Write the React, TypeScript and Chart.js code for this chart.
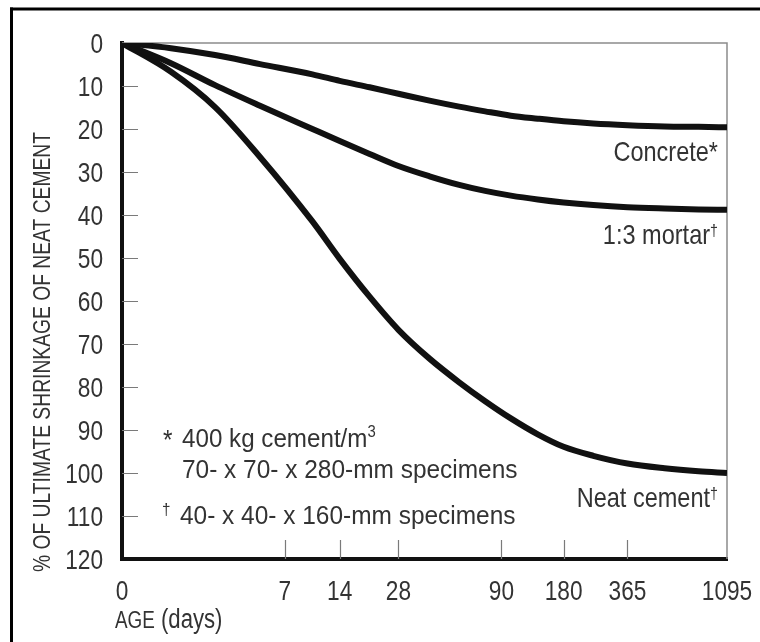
import React, { useEffect, useRef } from 'react';
import { Chart, LinearScale, registerables } from 'chart.js';

// ---------- data ----------
const DAYS = [0, 1, 2.5, 5, 10, 14, 20, 28, 40, 56, 75, 100, 135, 180, 250, 365, 550, 800, 1095];
const CONCRETE = [0, 1.2, 2.8, 4.9, 7.3, 8.8, 10.3, 11.8, 13.4, 14.8, 15.9, 16.9, 17.6, 18.2, 18.7, 19.1, 19.4, 19.5, 19.6];
const MORTAR = [0, 4.7, 9.8, 14.6, 20.0, 22.8, 25.8, 28.6, 31.0, 33.0, 34.4, 35.5, 36.4, 37.1, 37.7, 38.2, 38.5, 38.7, 38.8];
const NEAT = [0, 6.7, 14.9, 26.5, 41.5, 50.2, 59.0, 66.7, 73.4, 78.9, 83.3, 87.3, 91.0, 93.9, 96.0, 97.8, 98.9, 99.6, 100];
const SERIES_NAMES = ['Concrete', '1:3 mortar', 'Neat cement'];
const SERIES_MARKS = ['*', '\u2020', '\u2020'];
const X_TICKS = [0, 7, 14, 28, 90, 180, 365, 1095];
const Y_MIN = 0;
const Y_MAX = 120;
const Y_STEP = 10;
const Y_TITLE = '% OF ULTIMATE SHRINKAGE OF NEAT CEMENT';
const X_TITLE_CAPS = 'AGE';
const X_TITLE_REST = ' (days)';
const NOTE_1A = '400 kg cement/m';
const NOTE_1B = '3';
const NOTE_2 = '70- x 70- x 280-mm specimens';
const NOTE_3 = '40- x 40- x 160-mm specimens';

const FONT = '"Liberation Sans", Arial, sans-serif';
const TEXT = '#333333';
const SHIFT = 1.4;

class ShiftedLogScale extends LinearScale {
  static id = 'shiftedLog';
  static defaults = LinearScale.defaults;
  _tf(v: number) {
    return Math.log10(Math.max(v, 0) + SHIFT);
  }
  buildTicks() {
    return X_TICKS.map((v) => ({ value: v }));
  }
  getPixelForValue(value: number) {
    const a = this._tf(this.min);
    const b = this._tf(this.max);
    return this.getPixelForDecimal((this._tf(value) - a) / (b - a));
  }
  getValueForPixel(pixel: number) {
    const a = this._tf(this.min);
    const b = this._tf(this.max);
    const d = this.getDecimalForPixel(pixel);
    return Math.pow(10, a + d * (b - a)) - SHIFT;
  }
}

Chart.register(...registerables, ShiftedLogScale as any);

type Part = { text: string; size: number; dy?: number };

// draws text squeezed horizontally by k (condensed look)
function drawRich(
  ctx: CanvasRenderingContext2D,
  parts: Part[],
  x: number,
  baseline: number,
  align: 'left' | 'right' | 'center',
  k: number
) {
  let total = 0;
  const widths = parts.map((p) => {
    ctx.font = `${p.size}px ${FONT}`;
    const w = ctx.measureText(p.text).width;
    total += w;
    return w;
  });
  ctx.save();
  ctx.translate(x, baseline);
  ctx.scale(k, 1);
  let cx = align === 'right' ? -total : align === 'center' ? -total / 2 : 0;
  ctx.textAlign = 'left';
  ctx.textBaseline = 'alphabetic';
  parts.forEach((p, i) => {
    ctx.font = `${p.size}px ${FONT}`;
    ctx.fillText(p.text, cx, p.dy || 0);
    cx += widths[i];
  });
  ctx.restore();
}

const decor = {
  id: 'decor',
  beforeDraw(chart: any) {
    const ctx = chart.ctx as CanvasRenderingContext2D;
    ctx.save();
    ctx.fillStyle = '#ffffff';
    ctx.fillRect(0, 0, chart.width, chart.height);
    ctx.fillStyle = '#000000';
    ctx.fillRect(10, 7.5, chart.width - 10, 3);
    ctx.fillRect(10, 7.5, 3, chart.height);
    ctx.restore();
  },
  beforeDatasetsDraw(chart: any) {
    const ctx = chart.ctx as CanvasRenderingContext2D;
    const { left, right, top, bottom } = chart.chartArea;
    const xs = chart.scales.x;
    const ys = chart.scales.y;
    ctx.save();
    ctx.strokeStyle = '#8c8c8c';
    ctx.lineWidth = 1.5;
    ctx.beginPath();
    ctx.moveTo(left, top);
    ctx.lineTo(right, top);
    ctx.lineTo(right, bottom);
    ctx.stroke();
    ctx.strokeStyle = '#7a7a7a';
    ctx.lineWidth = 1.2;
    ctx.beginPath();
    for (let v = Y_MIN + Y_STEP; v < Y_MAX; v += Y_STEP) {
      const y = Math.round(ys.getPixelForValue(v)) + 0.5;
      ctx.moveTo(left, y);
      ctx.lineTo(left + 16, y);
    }
    X_TICKS.forEach((d) => {
      if (d === X_TICKS[0] || d === X_TICKS[X_TICKS.length - 1]) return;
      const x = Math.round(xs.getPixelForValue(d)) + 0.5;
      ctx.moveTo(x, bottom);
      ctx.lineTo(x, bottom - 19);
    });
    ctx.stroke();
    ctx.restore();
  },
  afterDraw(chart: any) {
    const ctx = chart.ctx as CanvasRenderingContext2D;
    const { right, left, bottom } = chart.chartArea;
    const xs = chart.scales.x;
    const ys = chart.scales.y;
    ctx.save();
    ctx.fillStyle = TEXT;
    // tick labels
    for (let v = Y_MIN; v <= Y_MAX; v += Y_STEP) {
      drawRich(ctx, [{ text: String(v), size: 27 }], left - 19, ys.getPixelForValue(v) + 9.7, 'right', 0.84);
    }
    X_TICKS.forEach((d) => {
      drawRich(ctx, [{ text: String(d), size: 27 }], xs.getPixelForValue(d), bottom + 41, 'center', 0.84);
    });
    // curve labels
    const series = [CONCRETE, MORTAR, NEAT];
    series.forEach((s, i) => {
      const yEnd = ys.getPixelForValue(s[s.length - 1]);
      const mark = SERIES_MARKS[i];
      const parts: Part[] = [{ text: SERIES_NAMES[i], size: 28 }];
      if (mark === '*') parts.push({ text: mark, size: 28 });
      else parts.push({ text: mark, size: 17, dy: -8 });
      drawRich(ctx, parts, right - 9, yEnd + 34, 'right', 0.84);
    });
    // footnotes
    drawRich(ctx, [{ text: '*', size: 27 }], 163, 449, 'left', 0.9);
    drawRich(ctx, [{ text: NOTE_1A, size: 26 }, { text: NOTE_1B, size: 16, dy: -10 }], 182, 447, 'left', 0.93);
    drawRich(ctx, [{ text: NOTE_2, size: 26 }], 182, 478, 'left', 0.94);
    drawRich(ctx, [{ text: '\u2020', size: 17, dy: -9 }], 162, 524, 'left', 0.9);
    drawRich(ctx, [{ text: NOTE_3, size: 26 }], 180, 524, 'left', 0.94);
    // x title
    drawRich(ctx, [{ text: X_TITLE_CAPS, size: 23 }, { text: X_TITLE_REST, size: 27 }], 115, 628, 'left', 0.82);
    // y title
    ctx.translate(42, 352);
    ctx.rotate(-Math.PI / 2);
    drawRich(ctx, [{ text: Y_TITLE, size: 23.5 }], 0, 8.4, 'center', 0.82);
    ctx.restore();
  },
};

export default function App() {
  const ref = useRef<HTMLCanvasElement | null>(null);
  useEffect(() => {
    if (!ref.current) return;
    const mk = (vals: number[]) => DAYS.map((d, i) => ({ x: d, y: vals[i] }));
    const lineStyle = {
      borderColor: '#111111',
      borderWidth: 6,
      pointRadius: 0,
      fill: false,
      cubicInterpolationMode: 'monotone' as const,
      borderCapStyle: 'butt' as const,
    };
    const chart = new Chart(ref.current, {
      type: 'line',
      data: {
        datasets: [
          { label: SERIES_NAMES[0], data: mk(CONCRETE), ...lineStyle },
          { label: SERIES_NAMES[1], data: mk(MORTAR), ...lineStyle },
          { label: SERIES_NAMES[2], data: mk(NEAT), ...lineStyle },
        ],
      },
      options: {
        responsive: false,
        animation: false,
        layout: { padding: { top: 43, right: 33, left: 0, bottom: 0 } },
        plugins: { legend: { display: false }, tooltip: { enabled: false } },
        scales: {
          x: {
            type: 'shiftedLog' as any,
            min: 0,
            max: 1095,
            grid: { display: true, drawOnChartArea: false, drawTicks: false },
            border: { display: true, width: 4, color: '#111111' },
            ticks: { display: false, autoSkip: false, maxRotation: 0 },
            afterFit: (s: any) => {
              s.height = 83;
              s.paddingLeft = 0;
              s.paddingRight = 0;
            },
          },
          y: {
            type: 'linear',
            reverse: true,
            min: Y_MIN,
            max: Y_MAX,
            grid: { display: true, drawOnChartArea: false, drawTicks: false },
            border: { display: true, width: 4, color: '#111111' },
            ticks: { display: false, stepSize: Y_STEP },
            afterFit: (s: any) => {
              s.width = 122;
              s.paddingTop = 0;
              s.paddingBottom = 0;
            },
          },
        },
      },
      plugins: [decor],
    });
    return () => chart.destroy();
  }, []);
  return (
    <div style={{ position: 'fixed', left: 0, top: 0, width: 760, height: 642, background: '#fff' }}>
      <canvas ref={ref} width={760} height={642} />
    </div>
  );
}
